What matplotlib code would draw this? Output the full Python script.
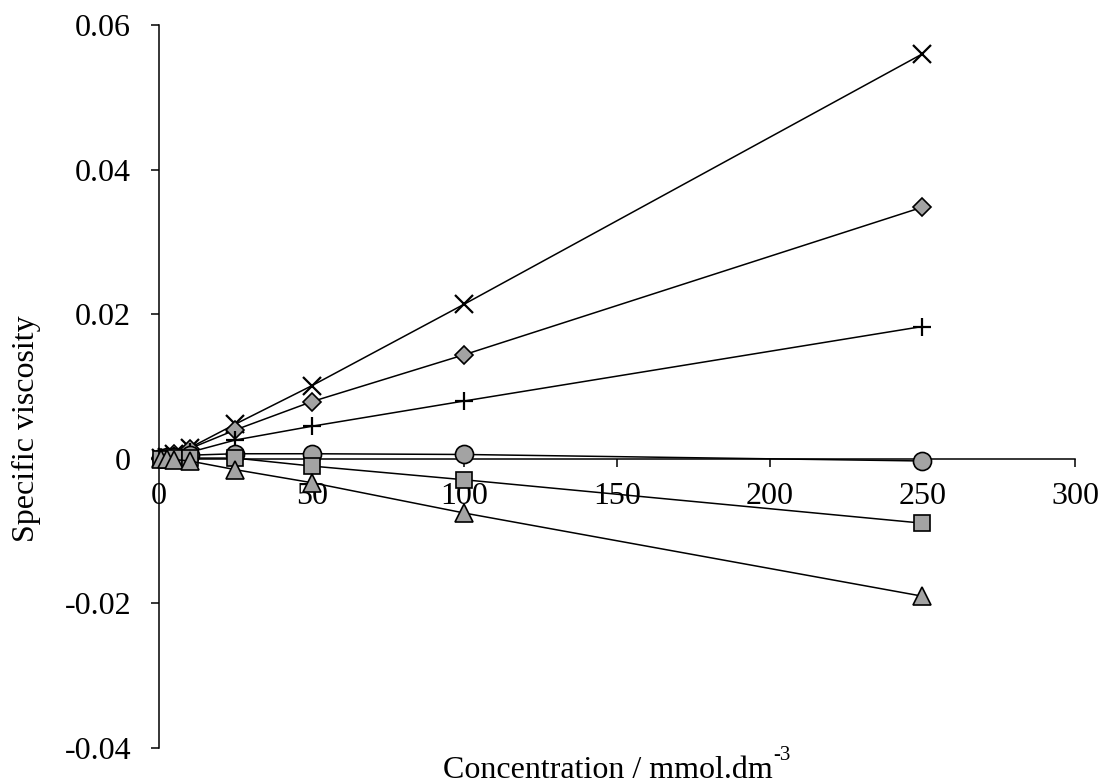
import matplotlib.pyplot as plt
import numpy as np

plt.rcParams['font.family'] = ['Liberation Serif', 'DejaVu Serif']

# concentration / mmol dm-3
conc = [0.5, 2.5, 5, 10, 25, 50, 100, 250]

# specific viscosity, one list per series
visc_cross = [0.0001, 0.0003, 0.0007, 0.0015, 0.0048, 0.0101, 0.0214, 0.0560]
visc_diamond = [0.0001, 0.0003, 0.0006, 0.0014, 0.0040, 0.0079, 0.0144, 0.0348]
visc_plus = [0.0001, 0.0002, 0.0004, 0.0009, 0.0026, 0.0045, 0.0080, 0.0183]
visc_circle = [0.0001, 0.0002, 0.0003, 0.0005, 0.0007, 0.0007, 0.0006, -0.0003]
visc_square = [0.0000, 0.0000, 0.0001, 0.0001, 0.0001, -0.0010, -0.0029, -0.0089]
visc_triangle = [0.0000, 0.0000, -0.0001, -0.0003, -0.0015, -0.0033, -0.0075, -0.0190]

x_ticks = [0, 50, 100, 150, 200, 250, 300]
y_ticks = [-0.04, -0.02, 0, 0.02, 0.04, 0.06]
y_ticklabels = ['-0.04', '-0.02', '0', '0.02', '0.04', '0.06']

fill = '#a3a3a3'
series = [
    (visc_cross, dict(marker='x', ms=13, mew=1.6, mec='k')),
    (visc_diamond, dict(marker='D', ms=9.5, mfc=fill, mec='k', mew=1.2)),
    (visc_plus, dict(marker='+', ms=13, mew=1.6, mec='k')),
    (visc_circle, dict(marker='o', ms=13, mfc=fill, mec='k', mew=1.2)),
    (visc_square, dict(marker='s', ms=12, mfc=fill, mec='k', mew=1.2)),
    (visc_triangle, dict(marker='^', ms=13, mfc=fill, mec='k', mew=1.2)),
]

fig = plt.figure(figsize=(11.02, 7.84), dpi=100)
ax = fig.add_axes([0.1443, 0.0459, 0.8312, 0.9222])

for vals, style in series:
    ax.plot(conc, vals, color='k', lw=1.1, clip_on=False, zorder=3, **style)

ax.set_xlim(0, 300)
ax.set_ylim(-0.04, 0.06)
ax.spines['top'].set_visible(False)
ax.spines['right'].set_visible(False)
ax.spines['bottom'].set_position(('data', 0))
for s in ('left', 'bottom'):
    ax.spines[s].set_linewidth(1.1)

ax.set_xticks(x_ticks)
ax.set_xticklabels([str(t) for t in x_ticks])
ax.set_yticks(y_ticks)
ax.set_yticklabels(y_ticklabels)
ax.tick_params(direction='out', length=6, width=1.1, labelsize=23)
ax.tick_params(axis='y', pad=14)
ax.tick_params(axis='x', pad=11)

ax.set_ylabel('Specific viscosity', fontsize=23)
ax.yaxis.set_label_coords(-0.129, 0.441)

xl = fig.text(0.402, 0.017, 'Concentration / mmol.dm', fontsize=23,
              ha='left', va='center')
ax.annotate('-3', xy=(1, 0.7), xycoords=xl, fontsize=15,
            ha='left', va='bottom')

fig.savefig('out.png', dpi=100)
